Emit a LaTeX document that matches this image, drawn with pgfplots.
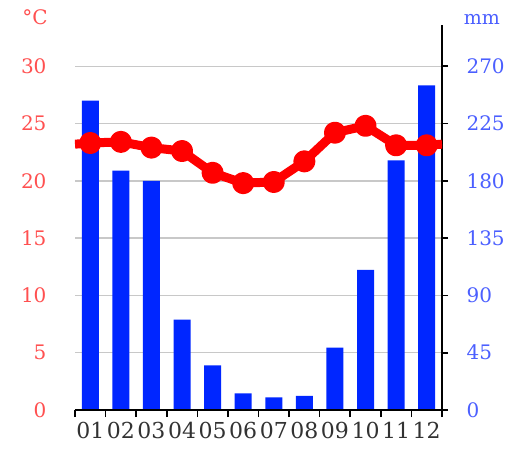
\documentclass[border=0pt]{standalone}
\usepackage{pgfplots}
\pgfplotsset{compat=1.18}
\usepackage{fontspec}
\setmainfont{DejaVu Serif}

\definecolor{barblue}{RGB}{0,38,255}
\definecolor{lblred}{RGB}{255,80,80}
\definecolor{lblblue}{RGB}{75,95,255}
\definecolor{gridgray}{RGB}{200,200,200}
\definecolor{monthgray}{RGB}{50,50,50}

\begin{document}
\begin{tikzpicture}[font=\fontsize{20}{24}\selectfont]
\path[use as bounding box] (-75pt,-48pt) rectangle (450pt,410pt);

% precipitation (mm), right axis
\begin{axis}[
  scale only axis, width=367pt, height=385pt,
  at={(0,0)}, anchor=south west,
  xmin=0.5, xmax=12.5, ymin=0, ymax=302.4,
  axis x line=none,
  axis y line*=right,
  axis line style={black, line width=1.6pt, -},
  ytick={0,45,...,270},
  tick align=outside, major tick length=6pt,
  major tick style={black, line width=1.6pt},
  ymajorgrids, grid style={gridgray, line width=1.4pt},
  yticklabel style={lblblue, anchor=west, xshift=15pt},
  /pgf/number format/assume math mode=true,
]
\addplot[ybar, fill=barblue, draw=none, bar width=17pt] coordinates {
  (1,243) (2,188) (3,180) (4,71) (5,35) (6,13)
  (7,10) (8,11) (9,49) (10,110) (11,196) (12,255)
};
\end{axis}

% temperature, left axis
\begin{axis}[
  scale only axis, width=367pt, height=385pt,
  at={(0,0)}, anchor=south west,
  xmin=0.5, xmax=12.5, ymin=0, ymax=33.6,
  axis x line*=bottom, axis y line*=left,
  x axis line style={black, line width=1.6pt, -},
  y axis line style={draw=none},
  ytick={0,5,...,30},
  xtick={1,...,12},
  xticklabels={01,02,03,04,05,06,07,08,09,10,11,12},
  minor xtick={0.5,1.5,...,12.5},
  tick align=outside,
  major tick length=0pt, minor tick length=7pt,
  minor x tick style={black, line width=1.6pt},
  major tick style={draw=none},
  yticklabel style={lblred, anchor=east, xshift=-25pt},
  xticklabel style={monthgray, yshift=-9pt, font=\fontsize{22}{24}\selectfont},
  /pgf/number format/assume math mode=true,
]
\addplot[red, line width=9pt, line join=round, mark=*, mark size=6.5pt,
  mark options={fill=red, draw=none}, mark indices={2,...,13}] coordinates {
  (0.5,23.2) (1,23.3) (2,23.4) (3,22.9) (4,22.6) (5,20.7) (6,19.8)
  (7,19.9) (8,21.7) (9,24.2) (10,24.8) (11,23.1) (12,23.1) (12.5,23.2)
};
\end{axis}

\node[lblred] at (-40pt,393pt) {°C};
\node[lblblue, font=\fontsize{19}{22}\selectfont] at (407pt,391pt) {mm};
\end{tikzpicture}
\end{document}
